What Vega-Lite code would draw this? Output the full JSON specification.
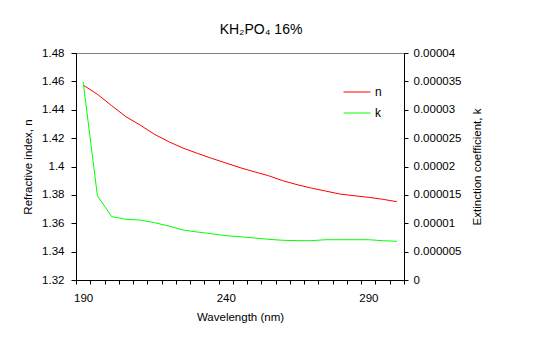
{
  "$schema": "https://vega.github.io/schema/vega-lite/v6.json",
  "width": 328,
  "height": 227,
  "autosize": {"type": "none"},
  "padding": {"left": 76, "top": 53, "right": 154, "bottom": 70},
  "background": "white",
  "title": {
    "text": "KH₂PO₄ 16%",
    "font": "Liberation Sans",
    "fontSize": 14,
    "fontWeight": "normal",
    "color": "black",
    "anchor": "middle",
    "baseline": "alphabetic",
    "dx": 21,
    "offset": -1
  },
  "config": {
    "view": {"stroke": "#808080"},
    "axis": {
      "labelFont": "Liberation Sans",
      "titleFont": "Liberation Sans",
      "labelFontSize": 11.5,
      "titleFontSize": 11.5,
      "titleFontWeight": "normal",
      "labelColor": "black",
      "titleColor": "black",
      "domainColor": "black",
      "tickColor": "black",
      "grid": false
    },
    "legend": {
      "labelFont": "Liberation Sans",
      "labelFontSize": 12,
      "labelColor": "black"
    }
  },
  "data": {
    "values": [
      {"wl": 190, "n": 1.4574, "k": 3.49e-5},
      {"wl": 195, "n": 1.4509, "k": 1.486e-5},
      {"wl": 200, "n": 1.4429, "k": 1.116e-5},
      {"wl": 205, "n": 1.4351, "k": 1.069e-5},
      {"wl": 210, "n": 1.4292, "k": 1.057e-5},
      {"wl": 215, "n": 1.4227, "k": 1.010e-5},
      {"wl": 220, "n": 1.4175, "k": 0.952e-5},
      {"wl": 225, "n": 1.4130, "k": 0.881e-5},
      {"wl": 230, "n": 1.4093, "k": 0.846e-5},
      {"wl": 235, "n": 1.4058, "k": 0.816e-5},
      {"wl": 240, "n": 1.4025, "k": 0.781e-5},
      {"wl": 245, "n": 1.3992, "k": 0.763e-5},
      {"wl": 250, "n": 1.3963, "k": 0.740e-5},
      {"wl": 255, "n": 1.3935, "k": 0.717e-5},
      {"wl": 260, "n": 1.3900, "k": 0.700e-5},
      {"wl": 265, "n": 1.3872, "k": 0.693e-5},
      {"wl": 270, "n": 1.3848, "k": 0.693e-5},
      {"wl": 275, "n": 1.3827, "k": 0.710e-5},
      {"wl": 280, "n": 1.3806, "k": 0.710e-5},
      {"wl": 285, "n": 1.3794, "k": 0.710e-5},
      {"wl": 290, "n": 1.3783, "k": 0.710e-5},
      {"wl": 295, "n": 1.3769, "k": 0.693e-5},
      {"wl": 300, "n": 1.3752, "k": 0.682e-5}
    ]
  },
  "encoding": {
    "x": {
      "field": "wl",
      "type": "quantitative",
      "scale": {"domain": [187.5, 302.5], "nice": false, "zero": false},
      "axis": {
        "title": "Wavelength (nm)",
        "values": [187.5, 192.5, 197.5, 202.5, 207.5, 212.5, 217.5, 222.5, 227.5, 232.5, 237.5, 242.5, 247.5, 252.5, 257.5, 262.5, 267.5, 272.5, 277.5, 282.5, 287.5, 292.5, 297.5, 302.5],
        "labelExpr": "(datum.value - 187.5) % 50 == 0 ? format(datum.value + 2.5, 'd') : ''",
        "labelOffset": 7.13,
        "labelFlush": false,
        "labelOverlap": false,
        "tickSize": 4,
        "labelPadding": 8,
        "titlePadding": 8
      }
    }
  },
  "layer": [
    {
      "mark": {"type": "line", "strokeWidth": 1, "clip": true},
      "encoding": {
        "y": {
          "field": "n",
          "type": "quantitative",
          "scale": {"domain": [1.32, 1.48], "nice": false, "zero": false},
          "axis": {
            "title": "Refractive index, n",
            "values": [1.32, 1.34, 1.36, 1.38, 1.4, 1.42, 1.44, 1.46, 1.48],
            "format": ".2~f",
            "tickSize": 5,
            "labelPadding": 7,
            "titlePadding": 8
          }
        },
        "color": {
          "datum": "n",
          "type": "nominal",
          "scale": {"domain": ["n", "k"], "range": ["#ff0000", "#00ff00"]},
          "legend": {
            "title": null,
            "orient": "none",
            "legendX": 267,
            "legendY": 25,
            "padding": 0,
            "symbolType": "stroke",
            "symbolSize": 729,
            "symbolStrokeWidth": 1,
            "labelOffset": 4,
            "rowPadding": 1
          }
        }
      }
    },
    {
      "mark": {"type": "line", "strokeWidth": 1, "clip": true},
      "encoding": {
        "y": {
          "field": "k",
          "type": "quantitative",
          "scale": {"domain": [0, 0.00004], "nice": false},
          "axis": {
            "orient": "right",
            "title": "Extinction coefficient, k",
            "titleAngle": 270,
            "titleBaseline": "bottom",
            "values": [0, 0.000005, 0.00001, 0.000015, 0.00002, 0.000025, 0.00003, 0.000035, 0.00004],
            "format": ".6~f",
            "tickSize": 4,
            "labelPadding": 5,
            "titlePadding": 22
          }
        },
        "color": {"datum": "k", "type": "nominal"}
      }
    }
  ],
  "resolve": {"scale": {"y": "independent"}}
}
